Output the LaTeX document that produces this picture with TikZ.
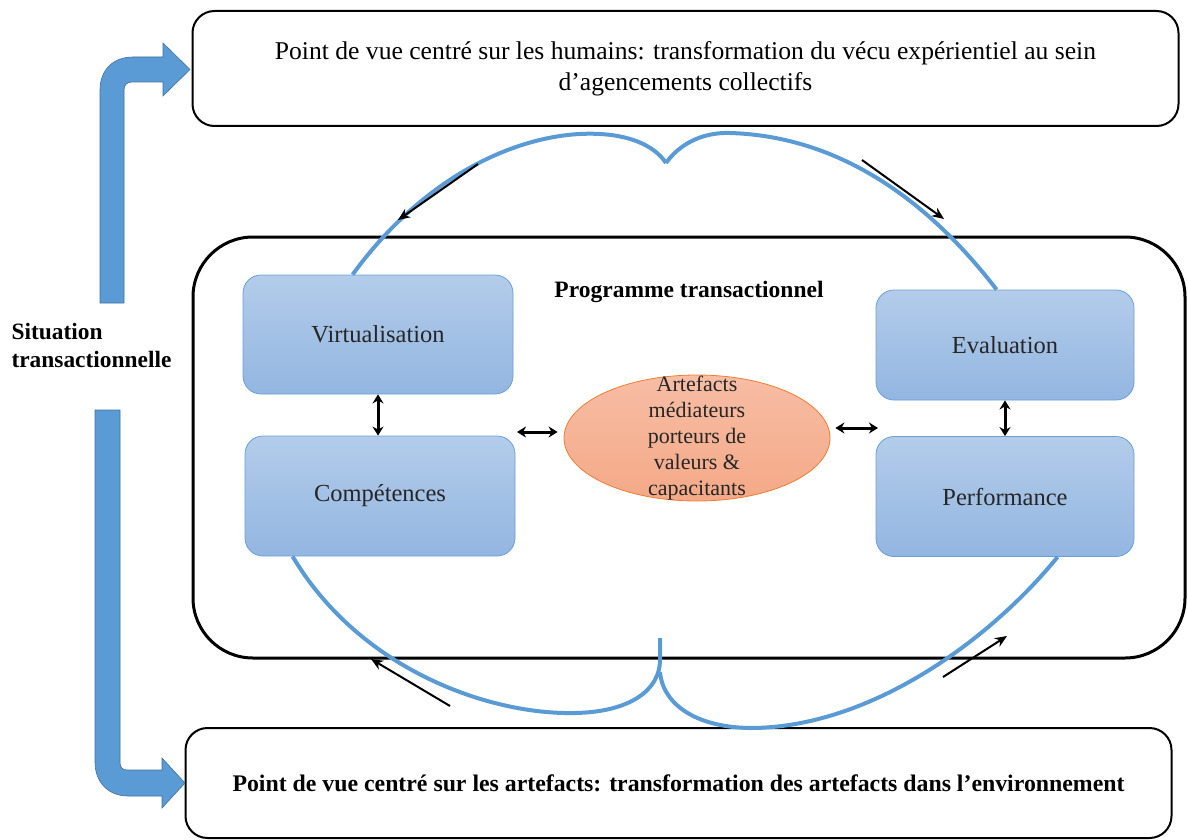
\documentclass[tikz,border=0pt]{standalone}
\usepackage{fontspec}
\setmainfont{Liberation Serif}
\usetikzlibrary{arrows,arrows.meta,shapes.geometric}
\definecolor{loopblue}{HTML}{5B9BD5}
\definecolor{arrowblue}{HTML}{5B9BD5}
\definecolor{arrowedge}{HTML}{41719C}
\definecolor{stagetop}{HTML}{B3CCEA}
\definecolor{stagebottom}{HTML}{93B6E1}
\definecolor{stageedge}{HTML}{6A9FD8}
\definecolor{arttop}{HTML}{F7BDA5}
\definecolor{artbottom}{HTML}{F4A987}
\definecolor{artedge}{HTML}{ED7D31}
\definecolor{labelgray}{HTML}{262626}

\begin{document}
\begin{tikzpicture}[x=1pt,y=-1pt,>=stealth',
  view box/.style={draw,line width=2pt,rounded corners=22pt,minimum width=986pt,align=center},
  stage box/.style={draw=stageedge,line width=0.8pt,rounded corners=18pt,top color=stagetop,bottom color=stagebottom,text=labelgray,font=\fontsize{24.5}{28}\selectfont},
  artefact node/.style={ellipse,draw=artedge,line width=0.8pt,top color=arttop,bottom color=artbottom,minimum width=266pt,minimum height=126pt},
  loop line/.style={loopblue,line width=4pt},
  flow arrow/.style={-{Stealth[length=12pt,width=10pt]},line width=2pt},
  swap arrow/.style={{Stealth[length=9pt,width=11pt]}-{Stealth[length=9pt,width=11pt]},line width=3pt},
  block arrow/.style={fill=arrowblue,draw=arrowedge,line width=0.6pt}]

  \useasboundingbox (0,0) rectangle (1188,840);

  \node[view box,minimum height=115pt,font=\fontsize{25.6}{31}\selectfont] (human) at (685.5,68.5)
    {Point de vue centré sur les humains: transformation du vécu expérientiel au sein\\d’agencements collectifs};
  \node[view box,minimum height=110pt,font=\bfseries\fontsize{23.8}{26}\selectfont] (artview) at (678.5,783)
    {Point de vue centré sur les artefacts: transformation des artefacts dans l’environnement};

  \node[draw,line width=3pt,rounded corners=60pt,minimum width=992pt,minimum height=421pt] (prog) at (689,447.5) {};
  \node[font=\bfseries\fontsize{23.5}{26}\selectfont] (progtitle) at (689,292) {Programme transactionnel};

  \node[stage box,minimum width=270pt,minimum height=119pt] (virt) at (378,334.5) {Virtualisation};
  \node[stage box,minimum width=270pt,minimum height=120pt] (comp) [below of=virt,node distance=161.5pt,xshift=2pt] {Compétences};
  \node[stage box,minimum width=258pt,minimum height=110pt] (eval) at (1005,345) {Evaluation};
  \node[stage box,minimum width=258pt,minimum height=120pt] (perf) [below of=eval,node distance=151.5pt] {Performance};

  \node[artefact node,label={[align=center,text=labelgray,font=\fontsize{22}{26}\selectfont]center:Artefacts\\médiateurs\\porteurs de\\valeurs \&\\capacitants}] (art) at (697,438) {};

  \node[anchor=west,align=left,font=\bfseries\fontsize{23.4}{28}\selectfont] (sit) at (8,345) {Situation\\transactionnelle};

  \coordinate (topcusp) at (666,163);
  \coordinate (botcusp) at (660,672);
  \coordinate (botspike) at (660,638);

  \draw[loop line] ([xshift=110pt]virt.north west) .. controls (430,168) and (530,130) .. (600,134)
    .. controls (635,136) and (656,148) .. (topcusp);
  \draw[loop line] (topcusp) .. controls (678,146) and (700,132) .. (730,133)
    .. controls (830,136) and (920,190) .. ([xshift=121pt]eval.north west);
  \draw[loop line] ([xshift=48pt]comp.south west) .. controls (360,670) and (490,715) .. (575,713)
    .. controls (630,712) and (660,690) .. (660,660) -- (botspike);
  \draw[loop line] (botcusp) .. controls (662,700) and (690,727) .. (750,728)
    .. controls (870,728) and (990,640) .. ([xshift=182pt]perf.south west);

  \coordinate (tl1) at (478,164);
  \coordinate (tl2) at (398,220);
  \coordinate (tr1) at (862,160);
  \coordinate (tr2) at (944,219);
  \coordinate (bl1) at (450,706);
  \coordinate (bl2) at (371,659);
  \coordinate (br1) at (943,677);
  \coordinate (br2) at (1007,636);
  \draw[flow arrow] (tl1) -- (tl2);
  \draw[flow arrow] (tr1) -- (tr2);
  \draw[flow arrow] (bl1) -- (bl2);
  \draw[flow arrow] (br1) -- (br2);

  \coordinate (swl) at (517,432);
  \coordinate (swr) at (878,428);
  \draw[swap arrow] (virt.south) -- (comp.north -| virt.south);
  \draw[swap arrow] (eval.south) -- (perf.north);
  \draw[swap arrow] (swl) -- ([xshift=-6pt]swl -| art.west);
  \draw[swap arrow] ([xshift=5pt]swr -| art.east) -- (swr);

  \draw[block arrow] (100,303) -- (100,90) .. controls (100,70) and (113,57) .. (133,57) -- (163,57) -- (163,43)
    -- (190,69.5) -- (163,96) -- (163,82) -- (132,82) .. controls (127,82) and (124,85) .. (124,90) -- (124,303) -- cycle;
  \draw[block arrow] (95,410) -- (95,762) .. controls (95,782) and (108,796) .. (128,796) -- (162,796) -- (162,808)
    -- (185,783) -- (162,758) -- (162,770) -- (127,770) .. controls (122,770) and (120,767) .. (120,762) -- (120,410) -- cycle;
\end{tikzpicture}
\end{document}
